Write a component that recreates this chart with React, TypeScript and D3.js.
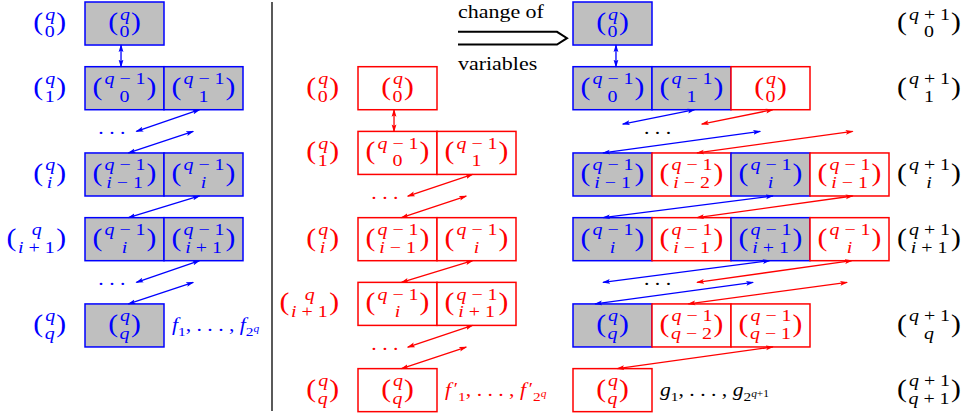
import * as d3 from 'd3';

const W = 961;
const H = 415;
const FONT = '"Liberation Serif", serif';
const BLUE = '#0000ff';
const RED = '#ff0000';
const GRAY = '#bfbfbf';
const ENTRY = 17.5; // binomial entries
const PAREN = 26;
const SX = 1.14; // the TeX glyphs are wider than Times; stretch text horizontally

// row height in "level" units (one level = distance between two consecutive rows)
const ROW = 0.665;

// ---- left panel: f_1..f_{2^q}
const leftLevels = [0, 1, 7 / 3, 10 / 3, 14 / 3];
const leftCells = [
  [['b', 'q', '0']],
  [['b', 'q − 1', '0'], ['b', 'q − 1', '1']],
  [['b', 'q − 1', 'i − 1'], ['b', 'q − 1', 'i']],
  [['b', 'q − 1', 'i'], ['b', 'q − 1', 'i + 1']],
  [['b', 'q', 'q']],
];
const leftLabels = [['q', '0'], ['q', '1'], ['q', 'i'], ['q', 'i + 1'], ['q', 'q']];
const leftDots = [2, 13 / 3];
const leftArrows = [
  ['b', 0.456, ROW, 0.456, 1],
  ['b', 1.45, 1 + ROW, 0.65, 2],
  ['b', 1.37, 2, 0.55, 7 / 3],
  ['b', 1.45, 7 / 3 + ROW, 0.55, 10 / 3],
  ['b', 1.45, 10 / 3 + ROW, 0.65, 13 / 3],
  ['b', 1.37, 13 / 3, 0.55, 14 / 3],
];
const leftExtra = [['f', 'i'], ['1', 's'], [', . . . , ', 'n'], ['f', 'i'], ['2', 's'], ['q', 'ssi']];

// ---- middle panel: f'_1..f'_{2^q}
const midLevels = [1, 2, 10 / 3, 13 / 3, 17 / 3];
const midCells = leftCells.map((row) => row.map((c) => ['r', c[1], c[2]]));
const midLabels = leftLabels;
const midDots = [3, 16 / 3];
const midArrows = [
  ['r', 0.456, 1 + ROW, 0.456, 2],
  ['r', 1.45, 2 + ROW, 0.63, 3],
  ['r', 1.37, 3, 0.55, 10 / 3],
  ['r', 1.45, 10 / 3 + ROW, 0.55, 13 / 3],
  ['r', 1.45, 13 / 3 + ROW, 0.63, 16 / 3],
  ['r', 1.37, 16 / 3, 0.55, 17 / 3],
];
const midExtra = [['f', 'i'], ['′', 'p'], ['1', 's'], [', . . . , ', 'n'], ['f', 'i'], ['′', 'p'], ['2', 's'], ['q', 'ssi']];

// ---- right panel: g_1..g_{2^{q+1}}
const rightLevels = [0, 1, 7 / 3, 10 / 3, 14 / 3, 17 / 3];
const rightCells = [
  [['b', 'q', '0']],
  [['b', 'q − 1', '0'], ['b', 'q − 1', '1'], ['r', 'q', '0']],
  [['b', 'q − 1', 'i − 1'], ['r', 'q − 1', 'i − 2'], ['b', 'q − 1', 'i'], ['r', 'q − 1', 'i − 1']],
  [['b', 'q − 1', 'i'], ['r', 'q − 1', 'i − 1'], ['b', 'q − 1', 'i + 1'], ['r', 'q − 1', 'i']],
  [['b', 'q', 'q'], ['r', 'q − 1', 'q − 2'], ['r', 'q − 1', 'q − 1']],
  [['r', 'q', 'q']],
];
const rightLabels = [['q + 1', '0'], ['q + 1', '1'], ['q + 1', 'i'], ['q + 1', 'i + 1'], ['q + 1', 'q'], ['q + 1', 'q + 1']];
const rightDots = [2, 13 / 3];
const rightArrows = [
  ['b', 0.544, ROW, 0.544, 1],
  ['b', 1.54, 1 + ROW, 0.63, 1.886],
  ['r', 2.53, 1 + ROW, 1.63, 1.886],
  ['b', 2.37, 2, 0.38, 7 / 3],
  ['r', 3.54, 2, 1.57, 7 / 3],
  ['b', 2.53, 7 / 3 + ROW, 0.38, 10 / 3],
  ['r', 3.54, 7 / 3 + ROW, 1.57, 10 / 3],
  ['b', 2.49, 10 / 3 + ROW, 0.38, 13 / 3],
  ['r', 3.53, 10 / 3 + ROW, 1.57, 13 / 3],
  ['b', 2.28, 13 / 3, 0.28, 14 / 3],
  ['r', 3.47, 13 / 3, 1.46, 14 / 3],
  ['r', 2.53, 14 / 3 + ROW, 0.56, 17 / 3],
];
const rightExtra = [['g', 'i'], ['1', 's'], [', . . . , ', 'n'], ['g', 'i'], ['2', 's'], ['q', 'ssi'], ['+1', 'ss']];

const y = d3.scaleLinear().domain([0, 1]).range([2, 66.7]);
const xLeft = d3.scaleLinear().domain([0, 1]).range([85, 164]);
const xMid = d3.scaleLinear().domain([0, 1]).range([358, 437]);
const xRight = d3.scaleLinear().domain([0, 1]).range([573, 652]);

const col = (c: string) => (c === 'b' ? BLUE : RED);

let ctx: CanvasRenderingContext2D | null = null;
function textW(s: string, size: number, italic: boolean) {
  if (!ctx) ctx = document.createElement('canvas').getContext('2d');
  ctx!.font = `${italic ? 'italic ' : ''}${size}px "Liberation Serif"`;
  return ctx!.measureText(s).width * SX;
}
const split = (s: string) => s.split(/([a-z])/).filter((p) => p !== '');
const isVar = (p: string) => /^[a-z]$/.test(p);
const mathW = (s: string, size: number) => split(s).reduce((a, p) => a + textW(p, size, isVar(p)), 0);
const at = (x: number, yy: number) => `translate(${x},${yy}) scale(${SX},1)`;

function MathText({ s, x, yy, size, fill }: any) {
  return (
    <text transform={at(x, yy)} fontSize={size} fill={fill} textAnchor="middle" style={{ whiteSpace: 'pre' }}>
      {split(s).map((p, i) => (
        <tspan key={i} fontStyle={isVar(p) ? 'italic' : 'normal'}>{p}</tspan>
      ))}
    </text>
  );
}

// binomial (top over bottom) in parentheses; anchor 'middle' or 'end'
function Binom({ cx, cy, top, bot, fill, anchor = 'middle' }: any) {
  const tw = mathW(top, ENTRY);
  const bw = mathW(bot, ENTRY);
  const inner = (tw > bw ? tw : bw) + 3;
  const pw = textW('(', PAREN, false);
  const c = anchor === 'end' ? cx - pw - inner / 2 : cx;
  return (
    <g>
      <text transform={at(c - inner / 2, cy + 6.5)} fontSize={PAREN} fill={fill} textAnchor="end">(</text>
      <text transform={at(c + inner / 2, cy + 6.5)} fontSize={PAREN} fill={fill} textAnchor="start">)</text>
      <MathText s={top} x={c + 0.5} yy={cy - 4} size={ENTRY} fill={fill} />
      <MathText s={bot} x={c} yy={cy + 13.5} size={ENTRY} fill={fill} />
    </g>
  );
}

function Extra({ x, yy, toks, fill }: any) {
  let off = 0;
  const parts = toks.map((t: string[], i: number) => {
    const kind = t[1];
    let size = 19;
    let o = 0;
    let dx = 0;
    if (kind === 's') { size = 13.5; o = 4.5; }
    if (kind === 'ss' || kind === 'ssi') { size = 10; o = 0.5; }
    if (kind === 'p') { size = 17; o = -2; dx = 2.5; }
    const dy = o - off;
    off = o;
    return (
      <tspan key={i} dx={dx} dy={dy} fontSize={size} fontStyle={kind === 'i' || kind === 'ssi' ? 'italic' : 'normal'}>
        {t[0]}
      </tspan>
    );
  });
  return (
    <text transform={at(x, yy)} fill={fill} style={{ whiteSpace: 'pre' }}>{parts}</text>
  );
}

function Panel({ x, levels, cells, labels, labelX, labelAnchor, labelFill, dots, dotsCol, dotsFill, arrows, extra, extraFill }: any) {
  const h = y(ROW) - y(0);
  return (
    <g>
      {cells.map((row: string[][], r: number) =>
        row.map((c, k) => (
          <g key={`${r}-${k}`}>
            <rect x={x(k)} y={y(levels[r])} width={x(1) - x(0)} height={h}
              fill={c[0] === 'b' ? GRAY : '#fff'} stroke={col(c[0])} strokeWidth={1.5} />
            <Binom cx={x(k + 0.5)} cy={y(levels[r]) + h / 2} top={c[1]} bot={c[2]} fill={col(c[0])} />
          </g>
        ))
      )}
      {labels.map((l: string[], r: number) => (
        <Binom key={r} cx={labelX} cy={y(levels[r]) + h / 2} top={l[0]} bot={l[1]} fill={labelFill} anchor={labelAnchor} />
      ))}
      {dots.map((d: number, i: number) => (
        <text key={i} transform={at(x(dotsCol), y(d) + 2.5)} fontSize={19} fill={dotsFill} textAnchor="middle" style={{ whiteSpace: 'pre' }}>. . .</text>
      ))}
      {arrows.map((a: any[], i: number) => (
        <line key={i} x1={x(a[1])} y1={y(a[2])} x2={x(a[3])} y2={y(a[4])} stroke={col(a[0])} strokeWidth={1.3}
          markerStart={`url(#ah-${a[0]})`} markerEnd={`url(#ah-${a[0]})`} />
      ))}
      <Extra x={x(1) + 8} yy={y(levels[levels.length - 1]) + h / 2 + 6} toks={extra} fill={extraFill} />
    </g>
  );
}

export default function App() {
  return (
    <svg width={W} height={H} fontFamily={FONT} style={{ position: 'absolute', left: 0, top: 0, background: '#fff' }}>
      <defs>
        {['b', 'r'].map((c) => (
          <marker key={c} id={`ah-${c}`} viewBox="0 0 8 6" refX={7} refY={3} markerWidth={8} markerHeight={6}
            markerUnits="userSpaceOnUse" orient="auto-start-reverse">
            <path d="M0,0.6 L8,3 L0,5.4 L1.6,3 Z" fill={col(c)} />
          </marker>
        ))}
      </defs>
      <line x1={272} x2={272} y1={2} y2={411} stroke="#000" strokeWidth={1.3} />
      <Panel x={xLeft} levels={leftLevels} cells={leftCells} labels={leftLabels} labelX={66} labelAnchor="end"
        labelFill={BLUE} dots={leftDots} dotsCol={0.34} dotsFill={BLUE} arrows={leftArrows} extra={leftExtra} extraFill={BLUE} />
      <Panel x={xMid} levels={midLevels} cells={midCells} labels={midLabels} labelX={339} labelAnchor="end"
        labelFill={RED} dots={midDots} dotsCol={0.34} dotsFill={RED} arrows={midArrows} extra={midExtra} extraFill={RED} />
      <Panel x={xRight} levels={rightLevels} cells={rightCells} labels={rightLabels} labelX={929} labelAnchor="middle"
        labelFill="#000" dots={rightDots} dotsCol={1.07} dotsFill="#000" arrows={rightArrows} extra={rightExtra} extraFill="#000" />
      <text transform={`translate(458,18) scale(1.22,1)`} fontSize={18} fill="#000">change of</text>
      <path d="M458,31.8 L557,31.8 L567,38.2 L557,44.6 L458,44.6" fill="none" stroke="#000" strokeWidth={2} />
      <text transform={`translate(458,70) scale(1.22,1)`} fontSize={18} fill="#000">variables</text>
    </svg>
  );
}
